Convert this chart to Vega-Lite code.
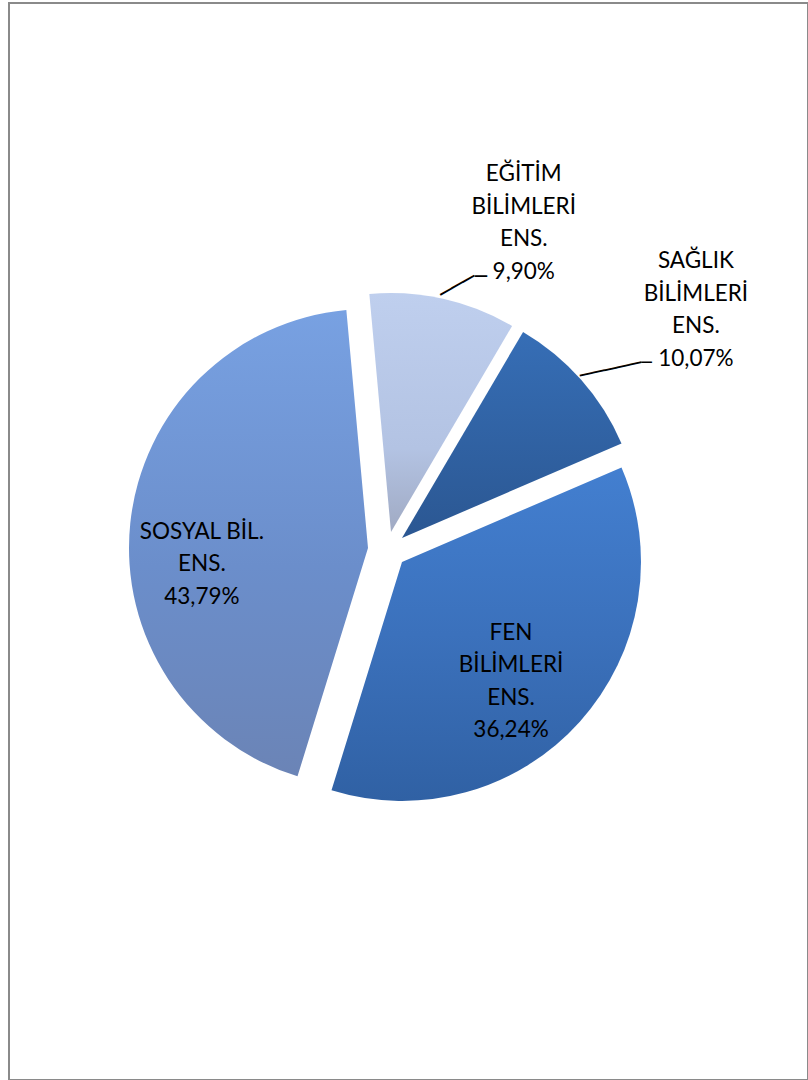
{
  "$schema": "https://vega.github.io/schema/vega-lite/v6.json",
  "width": 808,
  "height": 1080,
  "autosize": {"type": "fit", "contains": "padding"},
  "padding": {"left": 9, "top": 3, "right": 0, "bottom": 0},
  "background": "white",
  "view": {"stroke": "#8a8a8a", "strokeWidth": 2},
  "config": {"view": {"stroke": "#8a8a8a", "strokeWidth": 2}},
  "data": {
    "values": [
      {"cat": "EĞİTİM BİLİMLERİ ENS.", "label": "EĞİTİM\nBİLİMLERİ\nENS.\n9,90%", "value": 9.90, "order": 1},
      {"cat": "SAĞLIK BİLİMLERİ ENS.", "label": "SAĞLIK\nBİLİMLERİ\nENS.\n10,07%", "value": 10.07, "order": 2},
      {"cat": "FEN BİLİMLERİ ENS.", "label": "FEN\nBİLİMLERİ\nENS.\n36,24%", "value": 36.24, "order": 3},
      {"cat": "SOSYAL BİL. ENS.", "label": "SOSYAL BİL.\nENS.\n43,79%", "value": 43.79, "order": 4}
    ]
  },
  "transform": [
    {"stack": "value", "groupby": [], "sort": [{"field": "order", "order": "ascending"}], "as": ["v0", "v1"]}
  ],
  "layer": [
    {
      "transform": [{"filter": "datum.order === 1"}],
      "mark": {"type": "arc", "radius": 239, "x": {"expr": "width/2 - 17.5"}, "y": {"expr": "height/2 - 9.5"},
        "fill": {"gradient": "linear", "x1": 0, "y1": 0, "x2": 0, "y2": 1, "stops": [{"offset": 0, "color": "#bfcfee"}, {"offset": 0.65, "color": "#b3c3e3"}, {"offset": 1, "color": "#a0aac3"}]}},
      "encoding": {
        "theta": {"field": "v0", "type": "quantitative", "scale": {"domain": [0, 100], "range": [-0.09076, 6.19243]}},
        "theta2": {"field": "v1"}
      }
    },
    {
      "transform": [{"filter": "datum.order === 2"}],
      "mark": {"type": "arc", "radius": 239, "x": {"expr": "width/2 - 6.5"}, "y": {"expr": "height/2 - 3.5"},
        "fill": {"gradient": "linear", "x1": 0, "y1": 0, "x2": 0, "y2": 1, "stops": [{"offset": 0, "color": "#366eb6"}, {"offset": 1, "color": "#2b5792"}]}},
      "encoding": {
        "theta": {"field": "v0", "type": "quantitative", "scale": {"domain": [0, 100], "range": [-0.09076, 6.19243]}},
        "theta2": {"field": "v1"}
      }
    },
    {
      "transform": [{"filter": "datum.order === 3"}],
      "mark": {"type": "arc", "radius": 239, "x": {"expr": "width/2 - 6.5"}, "y": {"expr": "height/2 + 20.5"},
        "fill": {"gradient": "linear", "x1": 0, "y1": 0, "x2": 0, "y2": 1, "stops": [{"offset": 0, "color": "#437fd0"}, {"offset": 0.5, "color": "#3b71bc"}, {"offset": 1, "color": "#3061a4"}]}},
      "encoding": {
        "theta": {"field": "v0", "type": "quantitative", "scale": {"domain": [0, 100], "range": [-0.09076, 6.19243]}},
        "theta2": {"field": "v1"}
      }
    },
    {
      "transform": [{"filter": "datum.order === 4"}],
      "mark": {"type": "arc", "radius": 239, "x": {"expr": "width/2 - 40.5"}, "y": {"expr": "height/2 + 6.5"},
        "fill": {"gradient": "linear", "x1": 0, "y1": 0, "x2": 0, "y2": 1, "stops": [{"offset": 0, "color": "#78a1e2"}, {"offset": 0.55, "color": "#6b8ecb"}, {"offset": 1, "color": "#6b84b6"}]}},
      "encoding": {
        "theta": {"field": "v0", "type": "quantitative", "scale": {"domain": [0, 100], "range": [-0.09076, 6.19243]}},
        "theta2": {"field": "v1"}
      }
    },
    {
      "mark": {"type": "text", "font": "Lato", "fontSize": 22.5, "lineBreak": "\n", "lineHeight": 32.5, "align": "center", "baseline": "middle", "color": "#000000",
        "x": {"expr": "width/2 - 17.5"}, "y": {"expr": "height/2 - 9.5"}, "radius": 310, "dx": 65, "dy": -55},
      "encoding": {
        "theta": {"field": "value", "type": "quantitative", "stack": true, "scale": {"domain": [0, 100], "range": [-0.09076, 6.19243]}},
        "order": {"field": "order"},
        "text": {"condition": {"test": "datum.order === 1", "field": "label"}, "value": ""}
      }
    },
    {
      "mark": {"type": "text", "font": "Lato", "fontSize": 22.5, "lineBreak": "\n", "lineHeight": 32.5, "align": "center", "baseline": "middle", "color": "#000000",
        "x": {"expr": "width/2 - 6.5"}, "y": {"expr": "height/2 - 3.5"}, "radius": 340, "dx": 39, "dy": -52},
      "encoding": {
        "theta": {"field": "value", "type": "quantitative", "stack": true, "scale": {"domain": [0, 100], "range": [-0.09076, 6.19243]}},
        "order": {"field": "order"},
        "text": {"condition": {"test": "datum.order === 2", "field": "label"}, "value": ""}
      }
    },
    {
      "mark": {"type": "text", "font": "Lato", "fontSize": 22.5, "lineBreak": "\n", "lineHeight": 32.5, "align": "center", "baseline": "middle", "color": "#000000",
        "x": {"expr": "width/2 - 6.5"}, "y": {"expr": "height/2 + 20.5"}, "radius": 160, "dx": -10, "dy": -36},
      "encoding": {
        "theta": {"field": "value", "type": "quantitative", "stack": true, "scale": {"domain": [0, 100], "range": [-0.09076, 6.19243]}},
        "order": {"field": "order"},
        "text": {"condition": {"test": "datum.order === 3", "field": "label"}, "value": ""}
      }
    },
    {
      "mark": {"type": "text", "font": "Lato", "fontSize": 22.5, "lineBreak": "\n", "lineHeight": 32.5, "align": "center", "baseline": "middle", "color": "#000000",
        "x": {"expr": "width/2 - 40.5"}, "y": {"expr": "height/2 + 6.5"}, "radius": 165, "dx": -2, "dy": 1},
      "encoding": {
        "theta": {"field": "value", "type": "quantitative", "stack": true, "scale": {"domain": [0, 100], "range": [-0.09076, 6.19243]}},
        "order": {"field": "order"},
        "text": {"condition": {"test": "datum.order === 4", "field": "label"}, "value": ""}
      }
    },
    {
      "mark": {"type": "text", "font": "DejaVu Sans Mono", "fontSize": 21.6, "align": "center", "baseline": "middle", "angle": -29.2, "color": "#000000",
        "x": {"expr": "width/2 - 17.5"}, "y": {"expr": "height/2 - 9.5"}, "radius": 254.5, "dx": 8.6, "dy": 8},
      "encoding": {
        "theta": {"field": "value", "type": "quantitative", "stack": true, "scale": {"domain": [0, 100], "range": [-0.09076, 6.19243]}},
        "order": {"field": "order"},
        "text": {"condition": {"test": "datum.order === 1", "value": "───"}, "value": ""}
      }
    },
    {
      "mark": {"type": "text", "font": "DejaVu Sans Mono", "fontSize": 20, "align": "center", "baseline": "middle", "color": "#000000",
        "x": {"expr": "width/2 - 17.5"}, "y": {"expr": "height/2 - 9.5"}, "radius": 270.4, "dx": 30.9, "dy": 8.9},
      "encoding": {
        "theta": {"field": "value", "type": "quantitative", "stack": true, "scale": {"domain": [0, 100], "range": [-0.09076, 6.19243]}},
        "order": {"field": "order"},
        "text": {"condition": {"test": "datum.order === 1", "value": "─"}, "value": ""}
      }
    },
    {
      "mark": {"type": "text", "font": "DejaVu Sans Mono", "fontSize": 20.9, "align": "center", "baseline": "middle", "angle": -12.25, "color": "#000000",
        "x": {"expr": "width/2 - 6.5"}, "y": {"expr": "height/2 - 3.5"}, "radius": 268, "dx": 5.8, "dy": 10.8},
      "encoding": {
        "theta": {"field": "value", "type": "quantitative", "stack": true, "scale": {"domain": [0, 100], "range": [-0.09076, 6.19243]}},
        "order": {"field": "order"},
        "text": {"condition": {"test": "datum.order === 2", "value": "─────"}, "value": ""}
      }
    },
    {
      "mark": {"type": "text", "font": "DejaVu Sans Mono", "fontSize": 17, "align": "center", "baseline": "middle", "color": "#000000",
        "x": {"expr": "width/2 - 6.5"}, "y": {"expr": "height/2 - 3.5"}, "radius": 300.7, "dx": 19.2, "dy": 24.3},
      "encoding": {
        "theta": {"field": "value", "type": "quantitative", "stack": true, "scale": {"domain": [0, 100], "range": [-0.09076, 6.19243]}},
        "order": {"field": "order"},
        "text": {"condition": {"test": "datum.order === 2", "value": "─"}, "value": ""}
      }
    }
  ]
}
